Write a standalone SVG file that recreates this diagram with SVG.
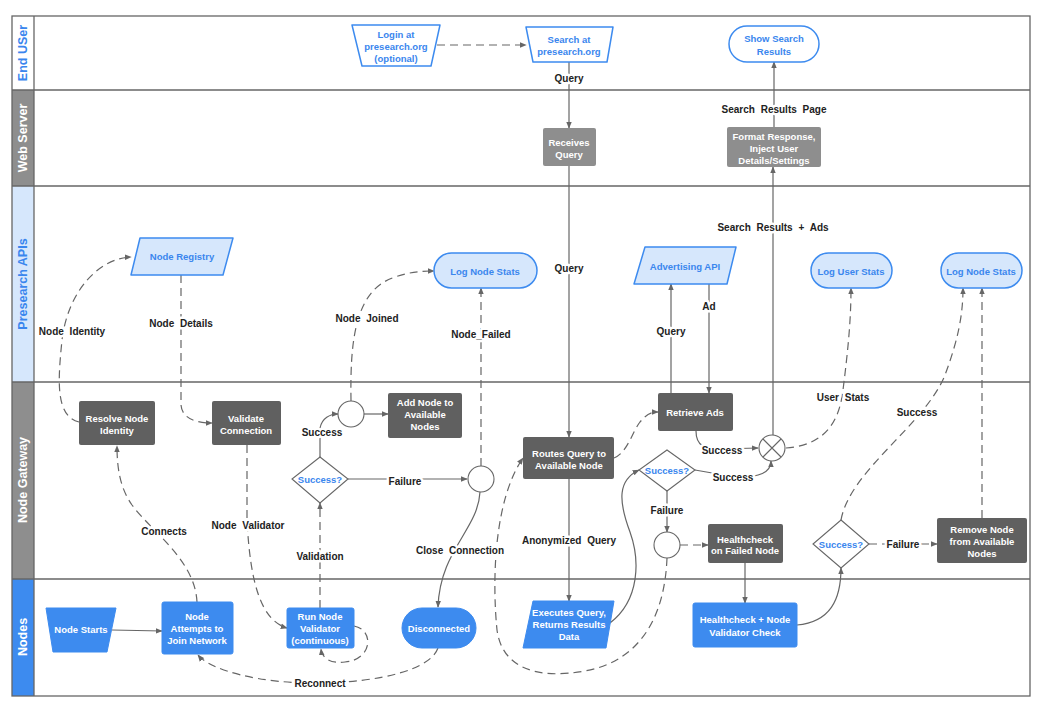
<svg xmlns="http://www.w3.org/2000/svg" width="1052" height="708" viewBox="0 0 1052 708">
<defs>
<marker id="ah" viewBox="0 0 10 10" refX="9" refY="5" markerWidth="7" markerHeight="7" orient="auto" markerUnits="userSpaceOnUse">
<path d="M0,1 L10,5 L0,9 z" fill="#666"/>
</marker>
<style>
text{font-family:"Liberation Sans",Arial,sans-serif;font-weight:bold;text-anchor:middle;dominant-baseline:central}
.lane{fill:none;stroke:#666;stroke-width:1.3}
.hd{font-size:12.5px}
.nt{font-size:9.5px;fill:#fff}
.ntb{font-size:9.5px;fill:#3a86ee}
.lbl{font-size:10px;fill:#222;word-spacing:3px;paint-order:stroke;stroke:#fff;stroke-width:5px;stroke-linejoin:round}
.blue{fill:#3d8bef;stroke:#3d8bef;stroke-linejoin:round}
.lb{fill:#d6e7fc;stroke:#3d8bef;stroke-width:1.5;stroke-linejoin:round}
.wb{fill:#fff;stroke:#3d8bef;stroke-width:1.5;stroke-linejoin:round}
.dg{fill:#606060}
.lg{fill:#8e8e8e}
.dia{fill:#fff;stroke:#666;stroke-width:1.1}
.c{fill:none;stroke:#666;stroke-width:1.2}
.d{stroke-dasharray:8 5}
</style>
</defs>
<rect width="1052" height="708" fill="#fff"/>
<g id="lanes">
<rect x="12" y="16" width="22" height="74" fill="#fff"/>
<rect x="12" y="90" width="22" height="96" fill="#8e8e8e"/>
<rect x="12" y="186" width="22" height="196" fill="#d6e7fc"/>
<rect x="12" y="382" width="22" height="197" fill="#8e8e8e"/>
<rect x="12" y="579" width="22" height="117" fill="#3d8bef"/>
<rect class="lane" x="12" y="16" width="1018" height="680"/>
<line class="lane" x1="34" y1="16" x2="34" y2="696"/>
<line class="lane" x1="12" y1="90" x2="1030" y2="90"/>
<line class="lane" x1="12" y1="186" x2="1030" y2="186"/>
<line class="lane" x1="12" y1="382" x2="1030" y2="382"/>
<line class="lane" x1="12" y1="579" x2="1030" y2="579"/>
<text class="hd" transform="translate(23,53) rotate(-90)" fill="#3a86ee">End USer</text>
<text class="hd" transform="translate(23,138) rotate(-90)" fill="#fff">Web Server</text>
<text class="hd" transform="translate(23,284) rotate(-90)" fill="#3a86ee">Presearch APIs</text>
<text class="hd" transform="translate(23,480) rotate(-90)" fill="#fff">Node Gateway</text>
<text class="hd" transform="translate(23,637) rotate(-90)" fill="#fff">Nodes</text>
</g>
<g id="connectors">
<path class="c d" d="M437,45 L526,45" marker-end="url(#ah)"/>
<path class="c" d="M569,62 L569,128" marker-end="url(#ah)"/>
<path class="c" d="M774,127 L774,62" marker-end="url(#ah)"/>
<path class="c" d="M569,166 L569,437" marker-end="url(#ah)"/>
<path class="c" d="M569,479 L569,601" marker-end="url(#ah)"/>
<path class="c" d="M610,623 C640,600 640,560 630,532 C618,500 618,480 639,470" marker-end="url(#ah)"/>
<path class="c d" d="M614,458 C628,452 632,432 640,422 C646,415 650,412 658,412" marker-end="url(#ah)"/>
<path class="c" d="M671,393 L671,284" marker-end="url(#ah)"/>
<path class="c" d="M709,284 L709,393" marker-end="url(#ah)"/>
<path class="c" d="M696,431 C696,446 705,449 720,449 L758,448" marker-end="url(#ah)"/>
<path class="c" d="M695,470 L735,477 C760,478 771,472 771,461" marker-end="url(#ah)"/>
<path class="c" d="M773,435 L773,167" marker-end="url(#ah)"/>
<path class="c d" d="M786,448 C830,445 840,415 843,390 C848,350 851,320 851,288" marker-end="url(#ah)"/>
<path class="c" d="M667,491 L667,532" marker-end="url(#ah)"/>
<path class="c d" d="M680,545 L708,545" marker-end="url(#ah)"/>
<path class="c d" d="M667,558 C665,610 645,660 585,671 C535,680 502,667 497,630 C492,580 494,500 523,458" marker-end="url(#ah)"/>
<path class="c" d="M745,563 L745,603" marker-end="url(#ah)"/>
<path class="c" d="M797,625 C830,622 841,600 841,568" marker-end="url(#ah)"/>
<path class="c d" d="M869,544 L937,544" marker-end="url(#ah)"/>
<path class="c d" d="M841,520 C850,470 925,425 945,375 C958,340 963,315 963,288" marker-end="url(#ah)"/>
<path class="c d" d="M982,518 L982,288" marker-end="url(#ah)"/>
<path class="c" d="M112,630 L162,631" marker-end="url(#ah)"/>
<path class="c d" d="M197,602 C195,560 152,532 132,505 C120,488 117,468 117,446" marker-end="url(#ah)"/>
<path class="c d" d="M79,422 C55,416 58,380 62,340 C68,290 100,258 131,257" marker-end="url(#ah)"/>
<path class="c d" d="M181,275 L181,405 C182,418 195,423 212,423" marker-end="url(#ah)"/>
<path class="c d" d="M247,445 L247,520 C250,580 260,620 287,628" marker-end="url(#ah)"/>
<path class="c d" d="M320,608 L320,503" marker-end="url(#ah)"/>
<path class="c d" d="M354,626 C375,630 372,660 345,662 C330,664 322,658 321,649" marker-end="url(#ah)"/>
<path class="c" d="M320,457 L320,428 C322,418 330,414 338,414" marker-end="url(#ah)"/>
<path class="c" d="M364,414 L388,414" marker-end="url(#ah)"/>
<path class="c d" d="M351,401 C350,340 355,290 395,277 C410,272 420,271 434,271" marker-end="url(#ah)"/>
<path class="c" d="M348,479 L467,479" marker-end="url(#ah)"/>
<path class="c d" d="M481,466 L481,288" marker-end="url(#ah)"/>
<path class="c" d="M480,492 C478,530 440,550 438,607" marker-end="url(#ah)"/>
<path class="c d" d="M438,648 C430,670 380,682 320,683 C260,684 210,670 198,655" marker-end="url(#ah)"/>
<text class="lbl" x="569" y="78">Query</text>
<text class="lbl" x="569" y="268">Query</text>
<text class="lbl" x="569" y="540">Anonymized Query</text>
<text class="lbl" x="671" y="331">Query</text>
<text class="lbl" x="709" y="306">Ad</text>
<text class="lbl" x="722" y="450">Success</text>
<text class="lbl" x="733" y="477">Success</text>
<text class="lbl" x="774" y="109">Search Results Page</text>
<text class="lbl" x="773" y="227">Search Results + Ads</text>
<text class="lbl" x="843" y="397">User Stats</text>
<text class="lbl" x="667" y="510">Failure</text>
<text class="lbl" x="917" y="412">Success</text>
<text class="lbl" x="903" y="544">Failure</text>
<text class="lbl" x="72" y="331">Node Identity</text>
<text class="lbl" x="181" y="323">Node Details</text>
<text class="lbl" x="367" y="318">Node Joined</text>
<text class="lbl" x="481" y="334">Node_Failed</text>
<text class="lbl" x="164" y="531">Connects</text>
<text class="lbl" x="248" y="525">Node Validator</text>
<text class="lbl" x="320" y="556">Validation</text>
<text class="lbl" x="322" y="432">Success</text>
<text class="lbl" x="405" y="481">Failure</text>
<text class="lbl" x="460" y="550">Close Connection</text>
<text class="lbl" x="320" y="683">Reconnect</text>
</g>
<g id="login"><polygon class="wb" points="352,25 440,25 431,66 362,66"/><text class="ntb" x="396" y="34">Login at</text><text class="ntb" x="396" y="46">presearch.org</text><text class="ntb" x="396" y="58">(optional)</text></g>
<g id="search"><polygon class="wb" points="526,27 613,27 607,62 533,62"/><text class="ntb" x="569" y="39">Search at</text><text class="ntb" x="569" y="51">presearch.org</text></g>
<g id="show"><rect class="wb" x="729" y="26" width="90" height="36" rx="18"/><text class="ntb" x="774" y="38">Show Search</text><text class="ntb" x="774" y="51">Results</text></g>
<g id="receives"><rect class="lg" x="543" y="128" width="53" height="38" rx="2"/><text class="nt" x="569" y="142">Receives</text><text class="nt" x="569" y="154">Query</text></g>
<g id="format"><rect class="lg" x="727" y="127" width="94" height="40" rx="2"/><text class="nt" x="774" y="136">Format Response,</text><text class="nt" x="774" y="148">Inject User</text><text class="nt" x="774" y="160">Details/Settings</text></g>
<g id="registry"><polygon class="lb" points="140,238 233,238 223,275 131,275"/><text class="ntb" x="182" y="256">Node Registry</text></g>
<g id="lognode1"><rect class="lb" x="434" y="253" width="103" height="35" rx="17.5"/><text class="ntb" x="485" y="271">Log Node Stats</text></g>
<g id="adapi"><polygon class="lb" points="645,247 736,247 727,284 634,284"/><text class="ntb" x="685" y="266">Advertising API</text></g>
<g id="loguser"><rect class="lb" x="811" y="253" width="81" height="35" rx="17.5"/><text class="ntb" x="851" y="271">Log User Stats</text></g>
<g id="lognode2"><rect class="lb" x="941" y="253" width="81" height="35" rx="17.5"/><text class="ntb" x="981" y="271">Log Node Stats</text></g>
<g id="resolve"><rect class="dg" x="79" y="401" width="76" height="44" rx="2"/><text class="nt" x="117" y="418">Resolve Node</text><text class="nt" x="117" y="430">Identity</text></g>
<g id="validate"><rect class="dg" x="212" y="401" width="69" height="44" rx="2"/><text class="nt" x="246" y="418">Validate</text><text class="nt" x="246" y="430">Connection</text></g>
<g id="join"><circle cx="351" cy="414" r="13" class="dia"/></g>
<g id="addnode"><rect class="dg" x="388" y="393" width="74" height="45" rx="2"/><text class="nt" x="425" y="402">Add Node to</text><text class="nt" x="425" y="414">Available</text><text class="nt" x="425" y="426">Nodes</text></g>
<g id="success1"><polygon class="dia" points="320,457 348,479 320,503 292,479"/><text class="ntb" x="320" y="479">Success?</text></g>
<g id="fail1"><circle cx="481" cy="479" r="13" class="dia"/></g>
<g id="routes"><rect class="dg" x="523" y="437" width="91" height="42" rx="2"/><text class="nt" x="569" y="453">Routes Query to</text><text class="nt" x="569" y="465">Available Node</text></g>
<g id="retrieve"><rect class="dg" x="658" y="393" width="75" height="38" rx="2"/><text class="nt" x="695" y="412">Retrieve Ads</text></g>
<g id="merge"><circle cx="772" cy="448" r="13" class="dia"/><path d="M763,439 L781,457 M781,439 L763,457" stroke="#666" stroke-width="1.1"/></g>
<g id="success2"><polygon class="dia" points="667,450 695,470 667,491 639,470"/><text class="ntb" x="667" y="470">Success?</text></g>
<g id="fail2"><circle cx="667" cy="545" r="13" class="dia"/></g>
<g id="hcfailed"><rect class="dg" x="708" y="524" width="75" height="39" rx="2"/><text class="nt" x="745" y="539">Healthcheck</text><text class="nt" x="745" y="550">on Failed Node</text></g>
<g id="success3"><polygon class="dia" points="841,520 869,544 841,568 813,544"/><text class="ntb" x="841" y="544">Success?</text></g>
<g id="remove"><rect class="dg" x="937" y="518" width="90" height="45" rx="2"/><text class="nt" x="982" y="529">Remove Node</text><text class="nt" x="982" y="541">from Available</text><text class="nt" x="982" y="553">Nodes</text></g>
<g id="starts"><polygon class="blue" points="46,608 116,608 107,652 53,652"/><text class="nt" x="81" y="629">Node Starts</text></g>
<g id="attempts"><rect class="blue" x="162" y="602" width="71" height="52" rx="2"/><text class="nt" x="197" y="616">Node</text><text class="nt" x="197" y="628">Attempts to</text><text class="nt" x="197" y="640">Join Network</text></g>
<g id="runval"><rect class="blue" x="287" y="608" width="67" height="40" rx="2"/><text class="nt" x="320" y="616">Run Node</text><text class="nt" x="320" y="628">Validator</text><text class="nt" x="320" y="640">(continuous)</text></g>
<g id="disconnected"><rect class="blue" x="402" y="608" width="74" height="40" rx="20"/><text class="nt" x="439" y="628">Disconnected</text></g>
<g id="executes"><polygon class="blue" points="533,601 614,601 606,648 523,648"/><text class="nt" x="569" y="612">Executes Query,</text><text class="nt" x="569" y="624">Returns Results</text><text class="nt" x="569" y="636">Data</text></g>
<g id="hcnode"><rect class="blue" x="693" y="603" width="104" height="44" rx="2"/><text class="nt" x="745" y="619">Healthcheck + Node</text><text class="nt" x="745" y="632">Validator Check</text></g>
</svg>
